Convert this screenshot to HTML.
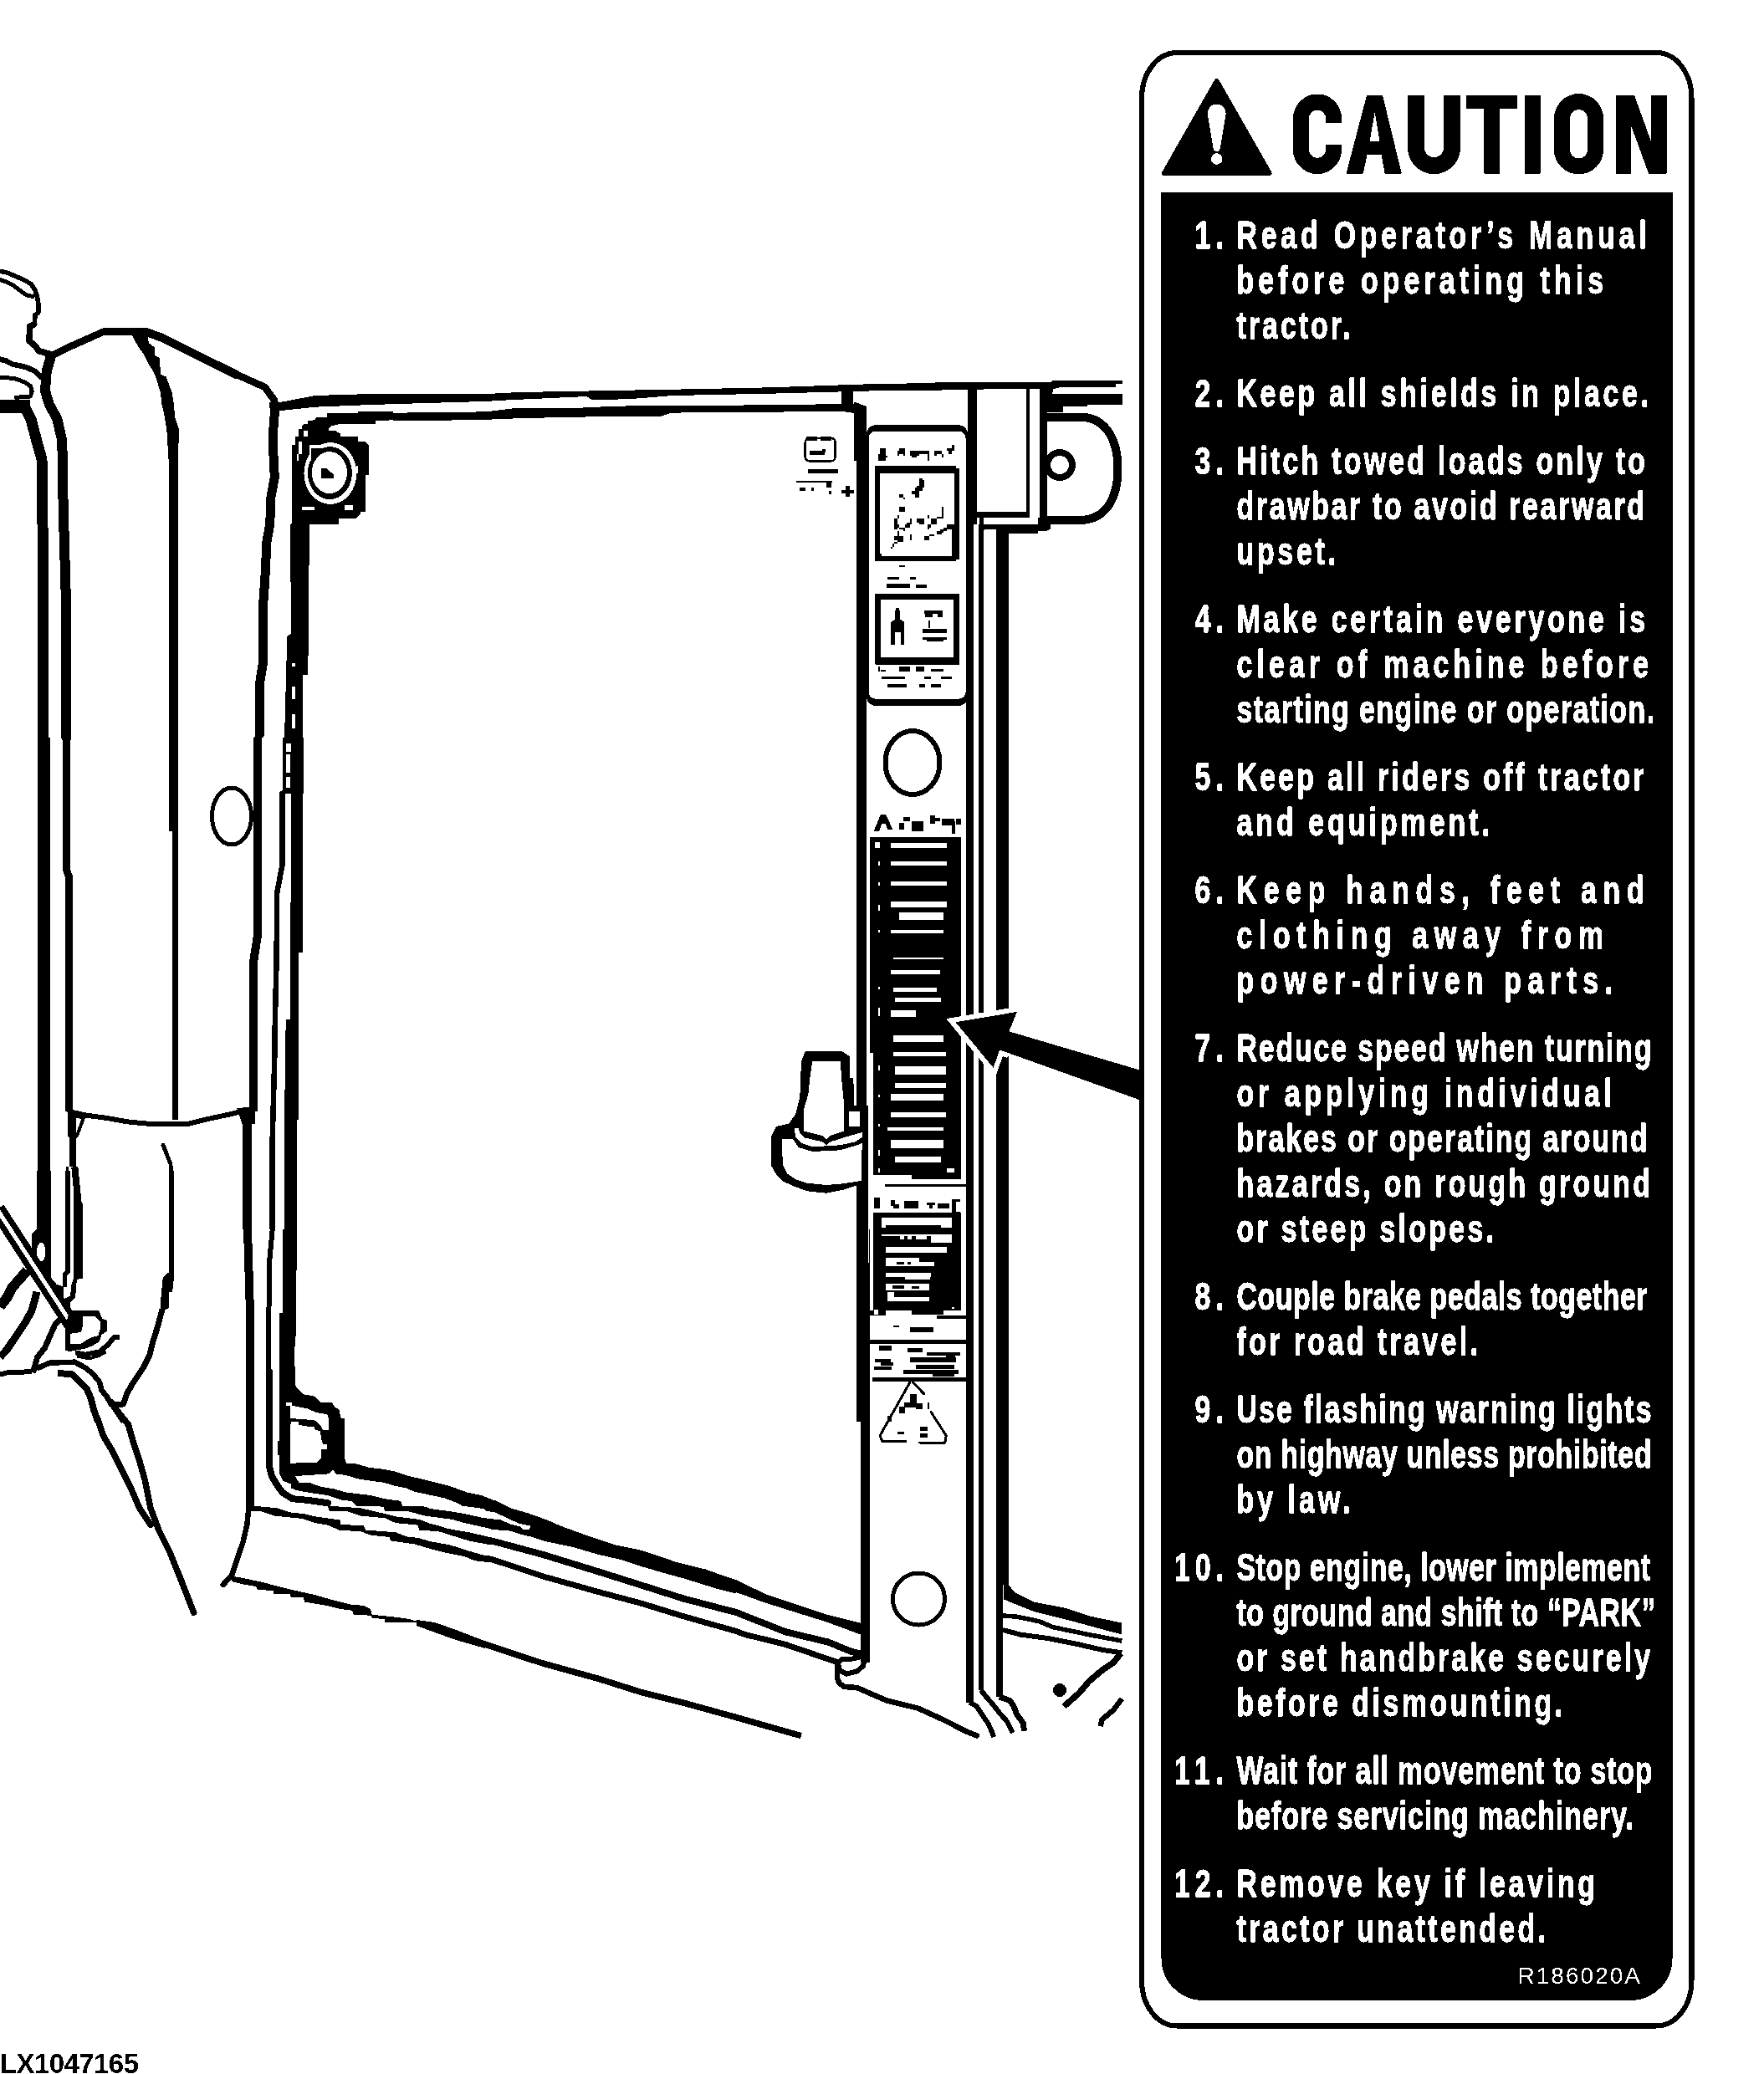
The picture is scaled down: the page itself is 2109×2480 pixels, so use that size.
<!DOCTYPE html>
<html><head><meta charset="utf-8"><title>LX1047165</title>
<style>
html,body{margin:0;padding:0;background:#fff;}
body{width:2109px;height:2480px;overflow:hidden;font-family:"Liberation Sans",sans-serif;}
svg{display:block;}
</style></head><body>
<svg width="2109" height="2480" viewBox="0 0 2109 2480">
<defs><filter id="bw" x="0" y="0" width="2109" height="2480" filterUnits="userSpaceOnUse" color-interpolation-filters="sRGB"><feComponentTransfer><feFuncR type="discrete" tableValues="0 1"/><feFuncG type="discrete" tableValues="0 1"/><feFuncB type="discrete" tableValues="0 1"/></feComponentTransfer></filter></defs>
<rect width="2109" height="2480" fill="#fff"/>
<g filter="url(#bw)">
<rect width="2109" height="2480" fill="#fff"/>
<g shape-rendering="crispEdges">
<path d="M0.0,324.4 L7.5,325.7 L16.9,329.5 L30.7,335.7 L37.6,340.1 L42.0,347.0 L44.5,355.2 L45.8,362.7 L45.8,374.0 L42.0,376.5 L41.4,387.8" fill="none" stroke="#000" stroke-width="5.5" stroke-linejoin="round" stroke-linecap="round"/>
<path d="M0.0,334.5 L7.5,337.0 L16.3,341.4 L25.1,348.3 L31.3,352.7 L38.9,354.5" fill="none" stroke="#000" stroke-width="5" stroke-linejoin="round" stroke-linecap="round"/>
<path d="M40.7,387.8 L35.7,390.3 L34.9,407.8 L42.0,413.5 L46.4,419.7 L60.2,423.5" fill="none" stroke="#000" stroke-width="7.5" stroke-linejoin="round" stroke-linecap="round"/>
<path d="M60.7,425.7 L83.3,414.7 L113.3,401.3 L123.3,396.7 L175.0,396.7" fill="none" stroke="#000" stroke-width="8.5" stroke-linejoin="round" stroke-linecap="round"/>
<path d="M175.0,397.0 L193.3,403.7 L233.3,423.7 L283.3,448.3" fill="none" stroke="#000" stroke-width="10" stroke-linejoin="round" stroke-linecap="round"/>
<path d="M283.3,448.0 L316.7,463.0 L328.3,479.0" fill="none" stroke="#000" stroke-width="8.5" stroke-linejoin="round" stroke-linecap="round"/>
<path d="M60.7,426.7 L55.7,444.0 L54.0,467.3 L59.0,484.0 L68.3,500.7 L74.3,527.3 L75.7,607.3 L78.7,710.7 L79.3,882.0" fill="none" stroke="#000" stroke-width="12" stroke-linejoin="round" stroke-linecap="round"/>
<path d="M0.0,484.0 L28.3,484.0 L37.3,502.3 L44.3,529.0 L50.0,549.0 L51.0,627.3 L52.0,882.0" fill="none" stroke="#000" stroke-width="13" stroke-linejoin="round" stroke-linecap="butt"/>
<rect x="0" y="478" width="36" height="16" fill="#000"/>
<path d="M0.0,451.4 L16.9,452.3 L28.8,456.7 L36.4,461.7 L38.2,468.0 L36.4,474.0 L19.4,475.3" fill="none" stroke="#000" stroke-width="5" stroke-linejoin="round" stroke-linecap="round"/>
<path d="M0.0,429.7 L7.5,431.6 L15.0,435.6 L30.7,438.9 L42.6,444.2 L48.3,450.4" fill="none" stroke="#000" stroke-width="6.5" stroke-linejoin="round" stroke-linecap="round"/>
<path d="M157,399 L164.2,412.8 L173,425.4 L176.8,434 L181.8,441.7 L185.5,449.2 L188,456.7 L191.8,469.2 L193.7,485.5 L195.6,491.8 L199.3,513 L202.2,560 L213.2,560 L213.7,513 L209.4,499.3 L207.5,480.5 L205.6,469.2 L201.8,459.2 L198.7,450.4 L192.4,448 L190.5,427.9 L185.5,425.4 L185,415.3 L178,410.3 L176,399 Z" fill="#000"/>
<path d="M207.7,512.3 L207.7,882.0" fill="none" stroke="#000" stroke-width="11" stroke-linejoin="round" stroke-linecap="butt"/>
<path d="M327.7,480.7 L328.3,494.0 L326.0,524.0 L328.3,570.7 L324.0,594.0 L322.7,627.3 L319.0,647.3 L316.7,694.0 L314.3,727.3 L314.3,794.0 L311.0,814.0 L310.0,882.0" fill="none" stroke="#000" stroke-width="11" stroke-linejoin="round" stroke-linecap="butt"/>
<path d="M333.3,481.3 L376.7,473.0 L443.3,471.0 L588.0,470.7 L588.0,479.7 L500.0,482.3 L443.3,484.0 L376.7,486.7 L333.3,491.3 Z" fill="#000"/>
<path d="M588.0,492.3 L493.3,493.3 L470.0,494.0 L470.0,503.3 L493.3,502.7 L588.0,502.3 Z" fill="#000"/>
<path d="M347.0,657.3 L348.3,757.3 L343.3,760.7 L340.0,882.0 L361.7,882.0 L361.7,807.3 L368.3,807.3 L369.7,657.3 Z" fill="#000"/>
<rect x="349.0" y="793.0" width="4.0" height="4.3" fill="#fff"/>
<rect x="349.0" y="820.7" width="4.0" height="15.0" fill="#fff"/>
<rect x="349.0" y="854.0" width="4.0" height="16.7" fill="#fff"/>
<path d="M470.0,492.3 L428.1,492.3 L428.1,493.8 L391.0,494.2 L391.0,498.6 L378.0,499.1 L376.1,502.4 L367.9,502.9 L367.9,506.8 L363.0,507.3 L361.1,509.2 L361.1,512.6 L357.3,513.0 L357.3,521.7 L352.9,522.2 L352.9,531.8 L349.1,531.8 L349.1,626.3 L347.1,626.8 L347.1,660.0 L369.8,660.0 L369.8,626.8 L405.0,626.8 L405.0,620.1 L425.7,619.6 L430.5,615.3 L431.0,612.4 L436.8,611.9 L436.8,568.0 L440.7,567.5 L440.7,531.8 L436.8,528.0 L427.6,528.0 L427.6,522.2 L406.9,522.2 L406.9,518.3 L400.6,515.0 L392.9,515.0 L392.9,513.0 L396.8,509.2 L405.0,507.3 L448.9,506.8 L448.9,502.9 L470.0,502.4 Z" fill="#000"/>
<g shape-rendering="crispEdges">
<clipPath id="hc"><rect x="363.0" y="528.0" width="64.8" height="75.9"/></clipPath>
<g clip-path="url(#hc)">
<ellipse cx="394.9" cy="566.0" rx="31.5" ry="37" fill="#fff" stroke="none" stroke-width="0"/>
</g>
<ellipse cx="394.4" cy="565.6" rx="26.5" ry="31.5" fill="#000" stroke="none" stroke-width="0"/>
<path d="M369.8,531.8 L382.3,531.8 L382.3,536.2 L384.3,536.2 L384.3,538.6 L378.0,539.1 L378.0,542.9 L376.1,545.3 L371.7,545.3 L371.7,550.6 L369.8,550.6 Z" fill="#fff"/>
<path d="M371.7,536.2 L386.2,536.2 L378.0,546.8 L371.7,552.6 Z" fill="#000"/>
<ellipse cx="393.9" cy="565.1" rx="21" ry="25" fill="#fff" stroke="none" stroke-width="0"/>
<path d="M383.8,559.8 L391.0,560.3 L399.2,568.0 L399.2,571.9 L383.8,571.9 Z" fill="#000"/>
</g>
<rect x="361.1" y="606.1" width="14.9" height="3.9" fill="#fff"/>
<rect x="412.2" y="604.2" width="9.6" height="5.8" fill="#fff"/>
<rect x="363.0" y="515.0" width="4.8" height="6.8" fill="#fff"/>
<rect x="357.3" y="528.0" width="3.9" height="14.9" fill="#fff"/>
<rect x="354.8" y="542.9" width="2.4" height="7.7" fill="#fff"/>
<rect x="425.7" y="556.9" width="2.1" height="9.2" fill="#fff"/>
<path d="M52.3,882.0 L53.0,1470.0" fill="none" stroke="#000" stroke-width="15" stroke-linejoin="round" stroke-linecap="butt"/>
<path d="M79.7,882.0 L80.0,1042.0 L82.7,1048.7 L82.7,1328.7" fill="none" stroke="#000" stroke-width="9" stroke-linejoin="round" stroke-linecap="butt"/>
<path d="M87.3,1328.7 L87.3,1395.3" fill="none" stroke="#000" stroke-width="8" stroke-linejoin="round" stroke-linecap="butt"/>
<path d="M80.0,1395.3 L80.0,1470.0" fill="none" stroke="#000" stroke-width="3" stroke-linejoin="round" stroke-linecap="butt"/>
<path d="M89.3,1395.3 L93.3,1435.3 L93.7,1470.0" fill="none" stroke="#000" stroke-width="8" stroke-linejoin="round" stroke-linecap="butt"/>
<path d="M207.7,882.0 L207.7,993.7" fill="none" stroke="#000" stroke-width="11" stroke-linejoin="round" stroke-linecap="butt"/>
<path d="M209.7,993.7 L209.7,1338.7" fill="none" stroke="#000" stroke-width="7" stroke-linejoin="round" stroke-linecap="butt"/>
<path d="M307.7,882.0 L307.7,1120.3 L303.3,1148.7 L303.3,1328.7" fill="none" stroke="#000" stroke-width="10" stroke-linejoin="round" stroke-linecap="butt"/>
<path d="M283.3,1325.3 L305.0,1322.7 L305.0,1343.7 L289.3,1343.7 Z" fill="#000"/>
<path d="M295.7,1343.7 L295.7,1470.0" fill="none" stroke="#000" stroke-width="11" stroke-linejoin="round" stroke-linecap="butt"/>
<path d="M337.3,948.7 L337.3,1035.3 L331.0,1068.7 L330.7,1142.0 L328.7,1228.7 L328.7,1248.7 L325.7,1362.0 L325.7,1470.0" fill="none" stroke="#000" stroke-width="6.5" stroke-linejoin="round" stroke-linecap="round"/>
<path d="M338.3,882.0 L362.7,882.0 L362.7,948.7 L361.7,948.7 L361.7,1138.7 L356.7,1138.7 L356.7,1338.7 L355.0,1338.7 L355.0,1470.0 L340.0,1470.0 L340.0,1338.7 L341.7,1218.7 L346.7,1218.7 L346.7,1138.7 L348.3,1022.0 L348.3,948.7 L338.3,948.7 Z" fill="#000"/>
<rect x="342.3" y="888.7" width="6.0" height="10.0" fill="#fff"/>
<rect x="342.3" y="902.0" width="5.0" height="21.7" fill="#fff"/>
<rect x="342.3" y="928.7" width="5.0" height="13.3" fill="#fff"/>
<ellipse cx="277" cy="976" rx="23.5" ry="34" fill="none" stroke="#000" stroke-width="5"/>
<path d="M83.3,1329.3 L103.3,1333.7 L128.3,1337.0 L151.7,1341.3 L183.3,1344.3 L223.3,1344.3 L250.0,1337.7 L276.7,1332.0 L293.3,1327.7" fill="none" stroke="#000" stroke-width="6" stroke-linejoin="round" stroke-linecap="round"/>
<path d="M83.3,1332.7 L100.0,1336.7 L91.7,1358.7 L83.3,1358.7 Z" fill="none" stroke="#000" stroke-width="4" stroke-linejoin="round" stroke-linecap="round"/>
<path d="M195.0,1369.3 L200.0,1382.0 L204.0,1392.0 L205.0,1470.0" fill="none" stroke="#000" stroke-width="5" stroke-linejoin="round" stroke-linecap="round"/>
<path d="M44.2,1400.0 L60.9,1400.0 L60.9,1527.6 L68.0,1536.1 L75.7,1538.1 L75.7,1553.1 L61.2,1546.3 L51.0,1534.4 L38.3,1519.0 L38.3,1474.8 L44.2,1469.7 Z" fill="#000"/>
<ellipse cx="49.3" cy="1497" rx="5.2" ry="11.5" fill="#fff" stroke="none" stroke-width="0"/>
<path d="M81.0,1400.0 L81.0,1520.7 L77.4,1524.1 L77.4,1538.6" fill="none" stroke="#000" stroke-width="5.5" stroke-linejoin="round" stroke-linecap="butt"/>
<path d="M90.0,1400.0 L90.0,1435.7" fill="none" stroke="#000" stroke-width="4" stroke-linejoin="round" stroke-linecap="butt"/>
<path d="M88.1,1434.0 L96.9,1434.9 L99.0,1440.8 L99.0,1528.4 L91.8,1530.1 L90.1,1551.4 L84.2,1557.3 L83.3,1567.5 L77.4,1567.5 L76.9,1553.1 L84.2,1549.7 L85.0,1537.8 L88.4,1527.6 L88.1,1461.2 Z" fill="#000"/>
<path d="M0.0,1562.4 L8.5,1551.4 L14.5,1539.5 L23.8,1529.3 L32.3,1519.0" fill="none" stroke="#000" stroke-width="12" stroke-linejoin="round" stroke-linecap="butt"/>
<path d="M0.0,1622.8 L7.7,1614.6 L17.0,1601.0 L23.8,1590.8 L30.6,1580.6 L37.8,1567.5 L41.7,1553.9 L43.9,1544.6" fill="none" stroke="#000" stroke-width="9" stroke-linejoin="round" stroke-linecap="butt"/>
<path d="M39.5,1641.5 L44.6,1622.8 L53.6,1611.7 L59.5,1598.1 L65.5,1584.5 L73.5,1576.0" fill="none" stroke="#000" stroke-width="7" stroke-linejoin="round" stroke-linecap="butt"/>
<path d="M0.0,1643.7 L7.7,1641.5 L38.3,1640.1" fill="none" stroke="#000" stroke-width="6" stroke-linejoin="round" stroke-linecap="butt"/>
<path d="M46.3,1635.5 L59.5,1629.6 L89.3,1628.7 L102.0,1635.5 L110.5,1642.3 L119.0,1652.6 L121.6,1662.8 L127.6,1669.6 L132.7,1679.3 L147.1,1679.3" fill="none" stroke="#000" stroke-width="6.5" stroke-linejoin="round" stroke-linecap="round"/>
<path d="M134.4,1679.8 L141.2,1690.0 L148.0,1700.0" fill="none" stroke="#000" stroke-width="7" stroke-linejoin="round" stroke-linecap="butt"/>
<path d="M68.9,1641.8 L86.7,1643.5 L95.2,1652.0 L103.7,1660.5 L108.8,1672.4 L112.2,1686.1 L117.3,1700.0" fill="none" stroke="#000" stroke-width="8" stroke-linejoin="round" stroke-linecap="butt"/>
<path d="M-3.4,1445.9 L85.9,1583.7" fill="none" stroke="#000" stroke-width="19" stroke-linejoin="round" stroke-linecap="butt"/>
<path d="M-3.4,1445.9 L85.9,1583.7" fill="none" stroke="#fff" stroke-width="5" stroke-linejoin="round" stroke-linecap="butt"/>
<path d="M83.3,1566.7 L118.2,1567.5 L122.4,1576.9 L127.6,1578.6 L127.6,1592.2 L121.6,1595.6 L119.0,1604.1 L110.5,1609.2 L102.0,1612.6 L91.8,1614.3 L84.2,1616.0 L78.2,1615.1 L78.2,1585.4 Z" fill="#000"/>
<path d="M98.6,1573.5 L113.1,1573.5 L119.9,1580.3 L119.9,1588.8 L117.3,1597.3 L110.5,1599.0 L102.0,1603.2 L96.9,1606.6 L84.2,1607.5 L84.2,1594.7 L96.9,1593.0 L98.6,1587.1 Z" fill="#fff"/>
<path d="M90.1,1617.3 L102.0,1619.7 L119.0,1616.3 L129.3,1607.8 L136.1,1599.3 L142.9,1598.5" fill="none" stroke="#000" stroke-width="6" stroke-linejoin="round" stroke-linecap="butt"/>
<path d="M91.8,1621.4 L107.1,1624.5 L119.0,1620.6 L126.7,1616.3" fill="none" stroke="#000" stroke-width="4" stroke-linejoin="round" stroke-linecap="butt"/>
<path d="M202.4,1400.0 L207.8,1400.0 L207.8,1529.3 L206.1,1544.6 L202.4,1544.6 L202.0,1564.1 L195.6,1567.5 L191.3,1567.5 L193.0,1544.6 L194.7,1527.9 L199.8,1522.4 L202.4,1522.4 Z" fill="#000"/>
<path d="M193.9,1565.8 L188.8,1585.4 L182.8,1604.1 L178.6,1621.1 L171.8,1634.7 L165.0,1644.9 L158.2,1655.1 L151.4,1667.0 L147.6,1678.9" fill="none" stroke="#000" stroke-width="7" stroke-linejoin="round" stroke-linecap="butt"/>
<path d="M133.3,1676.7 L140.0,1686.7 L153.3,1703.3 L160.0,1726.7 L166.7,1746.7 L173.3,1770.0 L180.0,1803.3 L190.0,1830.0 L203.3,1856.7 L216.7,1890.0 L231.7,1928.3" fill="none" stroke="#000" stroke-width="7.5" stroke-linejoin="round" stroke-linecap="round"/>
<path d="M116.7,1696.7 L123.3,1716.7 L133.3,1733.3 L143.3,1753.3 L156.7,1780.0 L166.7,1803.3 L180.0,1823.3" fill="none" stroke="#000" stroke-width="7.5" stroke-linejoin="round" stroke-linecap="round"/>
<path d="M296.0,1470.0 L299.0,1570.0 L299.3,1803.3" fill="none" stroke="#000" stroke-width="10" stroke-linejoin="round" stroke-linecap="butt"/>
<path d="M297.3,1803.3 L295.3,1823.3 L290.7,1843.3 L284.0,1863.3 L277.3,1883.3 L266.7,1895.0" fill="none" stroke="#000" stroke-width="6.5" stroke-linejoin="round" stroke-linecap="round"/>
<path d="M325.7,1470.0 L322.0,1510.0 L321.0,1620.0 L321.3,1643.3" fill="none" stroke="#000" stroke-width="6" stroke-linejoin="round" stroke-linecap="butt"/>
<path d="M322.0,1640.0 L322.0,1753.9 L324.9,1765.0 L330.8,1775.2 L337.6,1784.6 L349.5,1792.2 L368.2,1793.9 L392.0,1797.3" fill="none" stroke="#000" stroke-width="8" stroke-linejoin="round" stroke-linecap="round"/>
<path d="M338.3,1470.0 L355.0,1470.0 L354.0,1570.0 L353.3,1610.0 L352.0,1610.0 L352.7,1641.7 L334.3,1641.7 L334.3,1570.0 L338.3,1570.0 Z" fill="#000"/>
<path d="M334.2,1640.0 L352.9,1640.0 L352.9,1656.2 L356.3,1661.3 L362.3,1667.2 L376.7,1669.8 L383.5,1676.6 L397.1,1677.4 L400.5,1682.5 L405.6,1685.9 L407.3,1695.3 L411.6,1696.1 L412.1,1743.7 L414.1,1749.7 L426.1,1750.5 L441.4,1754.8 L455.8,1756.5 L470.3,1759.0 L489.0,1765.0 L514.5,1771.0 L537.4,1776.9 L558.7,1784.6 L575.7,1788.0 L590.0,1793.9 L590.0,1806.7 L573.2,1803.3 L552.8,1800.7 L546.8,1797.3 L531.5,1791.4 L507.7,1786.3 L495.8,1783.7 L485.6,1779.5 L472.8,1776.9 L458.4,1772.7 L444.8,1771.0 L427.8,1768.4 L414.1,1764.1 L401.4,1762.4 L398.8,1757.3 L392.9,1762.4 L352.9,1765.0 L357.2,1772.7 L371.6,1773.5 L383.5,1777.8 L398.8,1780.3 L414.1,1784.6 L443.1,1788.0 L460.1,1792.2 L478.8,1794.8 L481.3,1800.7 L509.4,1801.6 L514.5,1804.1 L540.0,1807.5 L555.3,1810.1 L590.0,1817.7 L590.0,1828.8 L555.3,1821.1 L540.9,1816.9 L508.5,1812.6 L489.0,1807.5 L460.1,1806.7 L458.4,1801.6 L426.1,1800.7 L420.1,1794.8 L409.0,1793.9 L391.2,1788.0 L368.2,1784.6 L354.6,1782.0 L347.8,1779.5 L347.8,1774.4 L338.5,1771.0 L334.2,1762.4 L334.2,1740.3 L332.2,1740.3 L332.2,1723.3 L334.2,1723.3 Z" fill="#000"/>
<path d="M341.9,1677.1 L348.7,1677.1 L348.7,1680.8 L358.0,1682.5 L368.2,1684.6 L376.7,1688.5 L384.4,1690.2 L391.2,1691.0 L392.9,1696.1 L392.9,1709.7 L386.1,1709.7 L382.7,1703.8 L377.6,1698.7 L363.1,1697.0 L347.0,1696.1 L347.0,1680.8 L341.9,1680.8 Z" fill="#fff"/>
<path d="M348.7,1699.9 L357.2,1699.9 L357.2,1703.8 L367.4,1705.5 L375.9,1706.3 L376.7,1709.7 L382.7,1711.4 L384.4,1721.6 L386.1,1726.7 L391.2,1727.6 L391.2,1732.7 L384.4,1733.2 L383.5,1743.7 L378.4,1748.8 L347.0,1749.7 L347.0,1703.8 Z" fill="#fff"/>
<path d="M392.0,1793.9 L393.7,1800.7 L431.2,1803.3 L460.1,1810.1 L473.7,1813.5 L501.7,1816.9 L514.5,1822.0 L524.7,1824.5 L534.9,1827.9 L560.4,1832.2 L585.9,1838.1 L590.0,1839.0 L590.0,1846.6 L582.5,1846.6 L560.4,1842.4 L524.7,1831.3 L500.9,1829.6 L500.0,1823.7 L472.8,1821.1 L460.1,1815.2 L431.2,1812.6 L415.9,1807.5 L393.7,1806.7 L392.0,1801.6 Z" fill="#000"/>
<path d="M301.9,1800.7 L313.0,1801.6 L331.7,1803.3 L347.0,1808.4 L363.1,1810.1 L377.6,1813.5 L407.3,1817.7 L407.3,1822.8 L434.6,1824.5 L437.1,1829.6 L472.8,1832.2 L485.6,1837.3 L500.0,1839.0 L514.5,1843.2 L538.3,1847.5 L559.6,1854.3 L577.4,1859.4 L590.0,1861.1 L590.0,1868.7 L567.2,1866.2 L555.3,1861.1 L533.2,1856.8 L510.2,1850.9 L496.6,1846.6 L466.9,1842.4 L466.0,1838.1 L443.1,1835.6 L431.2,1831.3 L405.6,1829.6 L392.0,1823.7 L376.7,1821.1 L361.4,1816.0 L328.3,1812.6 L313.0,1807.5 L297.7,1806.7 Z" fill="#000"/>
<path d="M276.7,1884.6 L290.0,1886.9 L313.0,1891.7 L331.7,1896.8 L352.9,1901.9 L375.9,1907.0 L397.1,1913.0 L420.1,1918.9 L434.6,1919.8 L443.1,1924.0 L444.8,1930.8 L470.3,1933.4 L489.0,1935.9 L502.6,1940.0 L460.1,1940.0 L460.1,1935.9 L444.8,1935.1 L443.1,1931.7 L422.7,1930.8 L421.0,1925.7 L407.3,1924.0 L390.3,1919.8 L364.0,1915.5 L363.1,1910.4 L347.8,1910.4 L347.0,1906.2 L326.6,1906.2 L326.6,1901.9 L308.7,1901.1 L305.3,1896.8 L290.0,1894.3 L276.7,1890.9 Z" fill="#000"/>
<path d="M498,1937 L520,1940 L548,1950 L580,1962.4 L580,1971 L545,1961 L520,1952 L498,1944 Z" fill="#000"/>
<path d="M580.0,1792.0 L591.9,1794.0 L610.6,1803.4 L631.0,1809.3 L654.8,1817.8 L670.1,1824.6 L707.6,1838.2 L736.5,1847.6 L764.5,1853.2 L789.2,1861.2 L808.7,1868.0 L843.6,1876.5 L858.9,1882.1 L880.0,1889.3 L880.0,1905.4 L858.9,1900.3 L818.1,1887.6 L794.3,1881.1 L767.1,1873.1 L744.1,1865.4 L714.4,1858.6 L685.4,1850.1 L649.7,1842.5 L634.4,1837.4 L622.5,1834.8 L610.6,1830.6 L587.7,1828.9 L580.0,1823.3 L580.0,1815.3 L598.7,1817.5 L610.6,1822.6 L622.5,1825.5 L625.9,1829.4 L632.7,1829.4 L634.1,1824.6 L620.0,1821.6 L605.5,1814.8 L591.9,1808.5 L580.0,1806.3 Z" fill="#000"/>
<path d="M586,1842 L648,1858.6 L716,1879.5 L767,1895.6 L818,1911.8 L880,1928 L939.8,1951.5 L989.7,1963.4 L1017,1974.5 L1030,1978" fill="none" stroke="#000" stroke-width="8" stroke-linejoin="round" stroke-linecap="butt"/>
<path d="M586,1864 L648,1884.6 L716,1903.7 L767,1917.3 L818,1933 L880,1950.5 L890,1954.3 L939.8,1966.6 L977,1979.4 L1001,1987.5" fill="none" stroke="#000" stroke-width="7" stroke-linejoin="round" stroke-linecap="butt"/>
<path d="M578,1965.5 L648,1988.7 L716,2007.5 L767,2023.6 L818,2036.4 L880,2053.5 L952,2074 L958,2075.5" fill="none" stroke="#000" stroke-width="7.5" stroke-linejoin="round" stroke-linecap="butt"/>
</g>
<g shape-rendering="crispEdges">
<path d="M588.0,470.7 L621.3,469.0 L804.7,465.7 L921.3,463.3 L1046.3,459.0 L1176.0,457.3 L1176.0,466.0 L1046.3,467.3 L921.3,470.7 L804.7,473.0 L751.3,477.3 L708.0,478.0 L701.3,474.0 L588.0,479.3 Z" fill="#000"/>
<path d="M588,491.5 L613,488.4 L678,488.4 L737,485.6 L803,485 L924,484.3 L1007,483 L1021,483 L1021,494 L1007,492 L924,492.6 L803,493.6 L790,498 L737,498 L678,498.8 L613,500.5 L588,501.5 Z" fill="#000"/>
<rect x="1006.3" y="467.3" width="14.0" height="18.3" fill="#000"/>
<path d="M1021.3,480.7 L1035.7,485.7 L1035.7,882.0 L1023.7,882.0 L1023.7,550.7 L1021.3,550.7 Z" fill="#000"/>
<rect x="1157" y="459.0" width="11" height="168.0" fill="#000"/>
<rect x="1036" y="508.3" width="121" height="335.7" rx="11" fill="#000"/>
<rect x="1038.5" y="515.7" width="116" height="320" rx="8" fill="#fff"/>
<rect x="1052.0" y="536.2" width="7.1" height="14.6" fill="#000"/>
<rect x="1050.1" y="542.9" width="1.9" height="7.8" fill="#000"/>
<rect x="1059.1" y="544.8" width="1.9" height="2.2" fill="#000"/>
<rect x="1075.1" y="536.2" width="6.7" height="6.7" fill="#000"/>
<rect x="1073.3" y="539.2" width="1.9" height="5.6" fill="#000"/>
<rect x="1080.0" y="542.9" width="1.9" height="1.9" fill="#000"/>
<rect x="1088.2" y="539.2" width="22.8" height="3.7" fill="#000"/>
<rect x="1088.2" y="542.9" width="10.8" height="1.9" fill="#000"/>
<rect x="1090.1" y="544.8" width="6.0" height="2.2" fill="#000"/>
<rect x="1108.8" y="542.9" width="2.2" height="7.8" fill="#000"/>
<rect x="1117.0" y="539.2" width="9.0" height="3.7" fill="#000"/>
<rect x="1117.0" y="542.9" width="3.0" height="1.9" fill="#000"/>
<rect x="1125.9" y="542.9" width="1.9" height="4.1" fill="#000"/>
<rect x="1137.9" y="532.1" width="3.0" height="6.7" fill="#000"/>
<rect x="1131.9" y="536.2" width="6.0" height="2.6" fill="#000"/>
<rect x="1134.2" y="538.8" width="3.7" height="4.1" fill="#000"/>
<rect x="1046.0" y="557.1" width="97.2" height="113.6" fill="#000"/>
<rect x="1143.1" y="560.0" width="3.7" height="108.9" fill="#000"/>
<rect x="1052.0" y="566.0" width="88.9" height="98.8" fill="#fff"/>
<rect x="1052.0" y="662.1" width="1.9" height="2.6" fill="#000"/>
<rect x="1099.0" y="572.1" width="4.1" height="2.2" fill="#000"/>
<rect x="1099.0" y="574.3" width="6.0" height="8.2" fill="#000"/>
<rect x="1096.1" y="581.1" width="7.1" height="5.6" fill="#000"/>
<rect x="1094.2" y="583.3" width="4.9" height="11.6" fill="#000"/>
<rect x="1090.1" y="587.0" width="4.1" height="3.7" fill="#000"/>
<rect x="1075.1" y="591.1" width="4.9" height="3.7" fill="#000"/>
<rect x="1080.0" y="594.9" width="1.9" height="1.9" fill="#000"/>
<rect x="1075.1" y="606.1" width="6.7" height="5.6" fill="#000"/>
<rect x="1073.3" y="616.2" width="1.9" height="3.7" fill="#000"/>
<rect x="1069.1" y="619.9" width="3.7" height="12.7" fill="#000"/>
<rect x="1072.9" y="627.0" width="1.9" height="3.7" fill="#000"/>
<rect x="1074.8" y="630.8" width="7.1" height="1.9" fill="#000"/>
<rect x="1080.0" y="632.6" width="1.9" height="2.2" fill="#000"/>
<rect x="1081.9" y="627.0" width="6.0" height="3.7" fill="#000"/>
<rect x="1084.1" y="625.1" width="6.0" height="1.9" fill="#000"/>
<rect x="1088.2" y="619.9" width="1.9" height="5.2" fill="#000"/>
<rect x="1096.1" y="619.9" width="9.0" height="4.9" fill="#000"/>
<rect x="1099.0" y="624.8" width="6.0" height="1.9" fill="#000"/>
<rect x="1109.1" y="616.2" width="1.9" height="3.7" fill="#000"/>
<rect x="1113.2" y="619.9" width="6.7" height="6.7" fill="#000"/>
<rect x="1109.1" y="627.0" width="3.7" height="3.7" fill="#000"/>
<rect x="1109.1" y="630.8" width="1.9" height="1.9" fill="#000"/>
<rect x="1120.0" y="618.0" width="7.8" height="1.9" fill="#000"/>
<rect x="1125.9" y="606.1" width="1.9" height="12.0" fill="#000"/>
<rect x="1131.9" y="627.0" width="9.0" height="5.6" fill="#000"/>
<rect x="1128.2" y="630.8" width="3.7" height="4.1" fill="#000"/>
<rect x="1124.1" y="633.0" width="4.1" height="3.7" fill="#000"/>
<rect x="1120.0" y="634.9" width="6.0" height="3.7" fill="#000"/>
<rect x="1111.0" y="639.0" width="6.0" height="1.9" fill="#000"/>
<rect x="1105.0" y="640.8" width="6.0" height="4.9" fill="#000"/>
<rect x="1088.2" y="639.0" width="1.9" height="6.7" fill="#000"/>
<rect x="1073.3" y="634.9" width="1.9" height="6.4" fill="#000"/>
<rect x="1069.1" y="641.2" width="10.8" height="4.5" fill="#000"/>
<rect x="1073.3" y="645.7" width="6.7" height="1.9" fill="#000"/>
<rect x="1069.1" y="647.9" width="3.7" height="1.9" fill="#000"/>
<rect x="1066.9" y="649.8" width="2.2" height="3.7" fill="#000"/>
<rect x="1065.0" y="653.9" width="1.9" height="1.9" fill="#000"/>
<rect x="1137.9" y="632.6" width="3.0" height="32.1" fill="#000"/>
<rect x="1074.7" y="675.7" width="7.3" height="2.7" fill="#000"/>
<rect x="1061.3" y="690.0" width="13.3" height="3.0" fill="#000"/>
<rect x="1088.0" y="690.0" width="6.7" height="3.0" fill="#000"/>
<rect x="1059.7" y="698.0" width="28.3" height="5.3" fill="#000"/>
<rect x="1095.3" y="699.0" width="12.7" height="4.3" fill="#000"/>
<rect x="1049.3" y="713.5" width="94.4" height="77" fill="#fff" stroke="#000" stroke-width="7"/>
<rect x="1047.3" y="785.7" width="99.7" height="9.0" fill="#000"/>
<path d="M1065.3,770.7 L1065.3,744.0 L1069.7,740.7 L1070.7,727.3 L1075.3,727.3 L1076.3,740.7 L1081.3,744.0 L1081.3,770.7 L1076.7,770.7 L1076.7,755.7 L1070.0,755.7 L1070.0,770.7 Z" fill="#000"/>
<rect x="1104.7" y="730.0" width="22.7" height="4.0" fill="#000"/>
<rect x="1106.3" y="734.0" width="8.3" height="4.0" fill="#000"/>
<rect x="1121.3" y="734.0" width="6.0" height="4.0" fill="#000"/>
<rect x="1109.7" y="742.3" width="2.3" height="8.3" fill="#000"/>
<rect x="1103.0" y="752.3" width="29.0" height="5.0" fill="#000"/>
<rect x="1103.0" y="762.3" width="29.0" height="2.7" fill="#000"/>
<rect x="1108.0" y="765.0" width="20.0" height="2.3" fill="#000"/>
<rect x="1049.7" y="796.7" width="2.3" height="6.7" fill="#000"/>
<rect x="1053.0" y="800.7" width="5.7" height="2.3" fill="#000"/>
<rect x="1074.7" y="797.3" width="13.3" height="5.7" fill="#000"/>
<rect x="1094.7" y="797.3" width="10.7" height="5.7" fill="#000"/>
<rect x="1113.0" y="800.0" width="15.0" height="3.0" fill="#000"/>
<rect x="1054.0" y="809.0" width="28.0" height="2.7" fill="#000"/>
<rect x="1104.7" y="809.0" width="8.3" height="2.7" fill="#000"/>
<rect x="1124.7" y="809.0" width="13.3" height="2.7" fill="#000"/>
<rect x="1060.7" y="818.3" width="23.3" height="4.0" fill="#000"/>
<rect x="1098.7" y="818.3" width="7.7" height="4.0" fill="#000"/>
<rect x="1113.0" y="818.3" width="12.3" height="4.0" fill="#000"/>
<rect x="962.7" y="524.0" width="36.0" height="27.3" rx="5" fill="none" stroke="#000" stroke-width="2.5"/>
<rect x="964.0" y="522.3" width="13.3" height="5.0" fill="#000"/>
<rect x="981.3" y="522.3" width="12.7" height="5.0" fill="#000"/>
<rect x="968.0" y="539.0" width="18.3" height="5.0" fill="#000"/>
<rect x="983.0" y="536.7" width="4.3" height="4.0" fill="#000"/>
<rect x="966.3" y="560.7" width="35.7" height="5.0" fill="#000"/>
<rect x="952.0" y="574.7" width="42.7" height="2.0" fill="#000"/>
<rect x="988.0" y="575.7" width="5.7" height="7.0" fill="#000"/>
<rect x="956.3" y="583.3" width="6.7" height="4.0" fill="#000"/>
<rect x="969.7" y="583.3" width="3.3" height="4.0" fill="#000"/>
<rect x="991.3" y="587.3" width="2.7" height="3.3" fill="#000"/>
<rect x="1006.3" y="585.7" width="15.0" height="4.3" fill="#000"/>
<rect x="1010.7" y="581.3" width="5.7" height="12.7" fill="#000"/>
<path d="M1100.0,458.7 L1125.5,457.0 L1257.3,457.0 L1258.2,454.9 L1342.3,454.9 L1342.3,458.7 L1333.8,459.2 L1333.8,462.6 L1266.7,463.3 L1259.0,465.5 L1258.2,471.1 L1304.1,471.1 L1342.3,471.1 L1342.3,484.2 L1299.8,484.2 L1299.8,486.4 L1270.9,486.4 L1270.9,492.7 L1251.9,493.5 L1251.9,464.6 L1242.9,464.6 L1100.0,465.0 Z" fill="#000"/>
<rect x="1227" y="464" width="4" height="155" fill="#000"/>
<rect x="1168" y="612" width="63" height="7" fill="#000"/>
<rect x="1243" y="464" width="9" height="163" fill="#000"/>
<path d="M1171.4,619.4 L1175.7,619.4 L1175.7,627.0 L1241.2,627.0 L1241.2,619.4 L1255.6,619.4 L1255.6,632.7 L1251.9,634.7 L1241.2,634.7 L1241.2,638.4 L1205.4,638.4 L1191.0,638.4 L1191.0,632.7 L1177.4,632.7 L1175.7,634.7 L1171.4,634.7 L1170.1,627.0 L1171.4,627.0 Z" fill="#000"/>
<path d="M1252,498.5 H1290 C1325,498.5 1336.5,530 1336.5,560 C1336.5,592 1325,622 1290,622 H1252" fill="none" stroke="#000" stroke-width="10"/>
<circle cx="1267" cy="556" r="15" fill="#fff" stroke="#000" stroke-width="8"/>
<rect x="1155.3" y="627" width="8.7" height="1409" fill="#000"/>
<rect x="1170" y="627" width="5.7" height="1394" fill="#000"/>
<rect x="1191" y="638" width="14.6" height="1257" fill="#000"/>
<rect x="1191" y="1895" width="8" height="134" fill="#000"/>
<rect x="1024" y="882" width="12" height="440" fill="#000"/>
<rect x="1024" y="1322" width="14" height="190" fill="#000"/>
<ellipse cx="1091" cy="912" rx="32.5" ry="38" fill="none" stroke="#000" stroke-width="6"/>
<path d="M1044.7,993.7 L1049.7,982.0 L1053.0,973.7 L1058.7,973.7 L1063.0,982.0 L1067.3,992.0 L1061.3,992.0 L1058.7,985.3 L1054.0,985.3 L1051.3,993.7 Z" fill="#000"/>
<rect x="1075.3" y="983.7" width="6.0" height="8.3" fill="#000"/>
<rect x="1079.7" y="977.0" width="8.3" height="5.0" fill="#000"/>
<rect x="1089.7" y="982.0" width="14.3" height="11.7" fill="#000"/>
<rect x="1112.0" y="975.3" width="6.0" height="10.0" fill="#000"/>
<rect x="1118.0" y="978.0" width="6.0" height="4.0" fill="#000"/>
<rect x="1126.3" y="978.7" width="15.0" height="8.3" fill="#000"/>
<rect x="1138.0" y="982.0" width="4.0" height="15.0" fill="#000"/>
<rect x="1143.0" y="979.3" width="5.7" height="6.7" fill="#000"/>
<path d="M1039.7,1001.0 L1149.0,1001.0 L1149.0,1409.7 L1089.7,1409.7 L1089.7,1405.3 L1044.0,1405.3 L1044.0,1258.7 L1039.7,1258.7 Z" fill="#000"/>
<rect x="1065.3" y="1007.8" width="66.7" height="6.0" fill="#fff"/>
<rect x="1065.3" y="1030.3" width="66.7" height="5.0" fill="#fff"/>
<rect x="1065.3" y="1053.7" width="66.7" height="5.0" fill="#fff"/>
<rect x="1065.3" y="1077.8" width="66.7" height="6.7" fill="#fff"/>
<rect x="1074.7" y="1091.2" width="53.3" height="8.3" fill="#fff"/>
<rect x="1065.3" y="1112.0" width="62.7" height="4.0" fill="#fff"/>
<rect x="1068.0" y="1145.3" width="60.0" height="2.0" fill="#fff"/>
<rect x="1065.3" y="1160.2" width="58.7" height="4.3" fill="#fff"/>
<rect x="1068.0" y="1181.0" width="51.7" height="5.0" fill="#fff"/>
<rect x="1069.7" y="1192.8" width="55.0" height="5.0" fill="#fff"/>
<rect x="1065.3" y="1207.8" width="29.3" height="8.3" fill="#fff"/>
<rect x="1068.0" y="1237.8" width="60.0" height="8.3" fill="#fff"/>
<rect x="1068.0" y="1257.8" width="63.3" height="5.0" fill="#fff"/>
<rect x="1069.7" y="1274.5" width="61.7" height="10.0" fill="#fff"/>
<rect x="1069.7" y="1295.3" width="61.7" height="5.3" fill="#fff"/>
<rect x="1065.3" y="1307.8" width="62.7" height="8.3" fill="#fff"/>
<rect x="1065.3" y="1329.5" width="66.0" height="6.7" fill="#fff"/>
<rect x="1061.3" y="1347.8" width="66.7" height="4.0" fill="#fff"/>
<rect x="1065.3" y="1362.8" width="62.7" height="10.0" fill="#fff"/>
<rect x="1069.7" y="1382.8" width="55.0" height="6.7" fill="#fff"/>
<rect x="1132.0" y="1397.0" width="9.3" height="5.0" fill="#fff"/>
<rect x="1049.7" y="1030.3" width="2.3" height="5.0" fill="#fff"/>
<rect x="1049.7" y="1055.3" width="2.3" height="3.3" fill="#fff"/>
<rect x="1049.7" y="1082.0" width="2.3" height="6.7" fill="#fff"/>
<rect x="1049.7" y="1112.0" width="2.3" height="3.3" fill="#fff"/>
<rect x="1049.7" y="1180.3" width="2.3" height="2.3" fill="#fff"/>
<rect x="1049.7" y="1205.3" width="2.3" height="10.0" fill="#fff"/>
<rect x="1049.7" y="1273.7" width="2.3" height="6.7" fill="#fff"/>
<rect x="1049.7" y="1308.7" width="2.3" height="3.3" fill="#fff"/>
<rect x="1049.7" y="1343.7" width="2.3" height="3.3" fill="#fff"/>
<rect x="1049.7" y="1375.3" width="2.3" height="6.7" fill="#fff"/>
<rect x="1049.7" y="1397.0" width="2.3" height="5.0" fill="#fff"/>
<rect x="1046.3" y="1007.0" width="5.7" height="6.7" fill="#fff"/>
<rect x="1058.0" y="1416.3" width="96.7" height="3.0" fill="#000"/>
<rect x="1044.7" y="1432.0" width="7.3" height="13.3" fill="#000"/>
<rect x="1065.3" y="1435.3" width="4.3" height="6.7" fill="#000"/>
<rect x="1068.0" y="1440.3" width="6.7" height="5.0" fill="#000"/>
<rect x="1081.3" y="1436.0" width="16.7" height="9.3" fill="#000"/>
<rect x="1108.0" y="1438.0" width="10.0" height="2.7" fill="#000"/>
<rect x="1111.3" y="1440.7" width="3.3" height="4.7" fill="#000"/>
<rect x="1121.3" y="1438.7" width="13.3" height="6.7" fill="#000"/>
<rect x="1138.0" y="1433.7" width="10.0" height="3.3" fill="#000"/>
<rect x="1138.0" y="1437.0" width="5.0" height="11.7" fill="#000"/>
<rect x="1138.0" y="1448.7" width="10.0" height="4.0" fill="#000"/>
<rect x="1044.0" y="1450.3" width="105.0" height="116.3" fill="#000"/>
<rect x="1054.3" y="1456.1" width="83.6" height="9.0" fill="#fff"/>
<rect x="1124.8" y="1465.1" width="13.1" height="3.3" fill="#fff"/>
<rect x="1054.3" y="1465.1" width="4.9" height="3.3" fill="#fff"/>
<rect x="1054.3" y="1475.7" width="83.6" height="2.6" fill="#fff"/>
<rect x="1113.3" y="1478.4" width="24.6" height="7.2" fill="#fff"/>
<rect x="1075.6" y="1478.4" width="4.9" height="3.9" fill="#fff"/>
<rect x="1085.4" y="1478.4" width="4.9" height="3.9" fill="#fff"/>
<rect x="1095.2" y="1478.4" width="13.1" height="3.1" fill="#fff"/>
<rect x="1059.2" y="1490.5" width="73.0" height="7.4" fill="#fff"/>
<rect x="1059.2" y="1504.4" width="40.2" height="4.9" fill="#fff"/>
<rect x="1059.2" y="1509.3" width="57.4" height="4.9" fill="#fff"/>
<rect x="1072.3" y="1509.3" width="8.2" height="2.5" fill="#000"/>
<rect x="1085.4" y="1509.3" width="3.3" height="2.5" fill="#000"/>
<rect x="1059.2" y="1521.6" width="54.1" height="5.7" fill="#fff"/>
<rect x="1082.1" y="1527.4" width="29.5" height="2.1" fill="#fff"/>
<rect x="1059.2" y="1534.8" width="51.6" height="8.2" fill="#fff"/>
<rect x="1067.4" y="1537.2" width="13.1" height="3.3" fill="#000"/>
<rect x="1090.3" y="1538.0" width="8.2" height="3.3" fill="#000"/>
<rect x="1060.8" y="1544.6" width="8.2" height="11.5" fill="#fff"/>
<rect x="1060.8" y="1551.1" width="50.0" height="4.9" fill="#fff"/>
<rect x="1137.9" y="1562.6" width="3.3" height="2.5" fill="#fff"/>
<path d="M963.0,1257.0 L1006.3,1257.0 L1016.3,1263.7 L1016.3,1288.7 L1020.3,1288.7 L1021.3,1322.0 L1031.3,1323.7 L1033.0,1358.7 L1031.3,1415.3 L1023.0,1418.0 L1008.0,1422.7 L988.0,1426.7 L964.7,1424.3 L951.3,1419.3 L936.3,1412.7 L928.0,1404.3 L922.3,1394.3 L922.3,1358.7 L928.0,1347.0 L943.0,1343.7 L951.3,1332.0 L956.3,1312.0 L958.0,1268.7 Z" fill="#000"/>
<path d="M971.3,1268.7 L1004.7,1268.7 L1006.3,1292.0 L1008.7,1315.3 L1008.7,1352.7 L993.0,1358.0 L988.0,1362.7 L983.0,1358.0 L961.3,1352.7 L961.3,1325.3 L966.3,1308.7 L968.0,1292.0 Z" fill="#fff"/>
<path d="M1014.7,1328.7 L1028.0,1328.7 L1028.0,1347.0 L1014.7,1347.0 Z" fill="#fff"/>
<path d="M949.7,1348.7 L954.7,1348.7 L956.3,1355.3 L961.3,1360.3 L983.0,1365.3 L988.0,1369.3 L993.0,1365.3 L1008.7,1360.3 L1031.3,1353.7 L1031.3,1359.3 L1023.0,1365.3 L1004.7,1369.3 L971.3,1371.3 L958.0,1367.0 L951.3,1360.3 Z" fill="#fff"/>
<path d="M934.7,1362.0 L948.0,1362.0 L954.7,1372.0 L971.3,1377.0 L1004.7,1375.3 L1024.7,1369.3 L1030.7,1367.0 L1029.7,1412.0 L1008.0,1415.3 L988.0,1417.0 L964.7,1414.7 L951.3,1410.3 L941.3,1403.7 L936.3,1393.7 L934.7,1372.0 Z" fill="#fff"/>
<rect x="1024" y="1510" width="16" height="190" fill="#000"/>
<rect x="1029" y="1700" width="11" height="288" fill="#000"/>
<rect x="1024" y="1418.7" width="12" height="91.3" fill="#000"/>
<rect x="1038.5" y="1470" width="1.5" height="100" fill="#000"/>
<rect x="1119.8" y="1573.3" width="35.2" height="4.1" fill="#000"/>
<rect x="1040.3" y="1566.7" width="18.9" height="6.6" fill="#000"/>
<rect x="1045.2" y="1565.9" width="4.9" height="5.7" fill="#fff"/>
<rect x="1090.3" y="1566.7" width="37.7" height="4.9" fill="#000"/>
<rect x="1039.7" y="1601.7" width="115.0" height="5.0" fill="#000"/>
<rect x="1043.0" y="1646.7" width="111.7" height="5.0" fill="#000"/>
<rect x="1068.0" y="1585.0" width="6.7" height="2.3" fill="#000"/>
<rect x="1088.0" y="1587.3" width="28.3" height="5.3" fill="#000"/>
<rect x="1051.3" y="1609.3" width="15.0" height="5.7" fill="#000"/>
<rect x="1084.7" y="1611.7" width="18.3" height="5.0" fill="#000"/>
<rect x="1108.0" y="1616.7" width="40.0" height="4.0" fill="#000"/>
<rect x="1046.3" y="1625.0" width="18.3" height="4.3" fill="#000"/>
<rect x="1053.0" y="1629.3" width="15.0" height="4.0" fill="#000"/>
<rect x="1088.0" y="1623.3" width="55.0" height="6.0" fill="#000"/>
<rect x="1131.3" y="1619.3" width="10.7" height="5.7" fill="#000"/>
<rect x="1044.7" y="1634.0" width="21.7" height="4.3" fill="#000"/>
<rect x="1094.7" y="1631.7" width="46.7" height="5.0" fill="#000"/>
<rect x="1079.7" y="1638.3" width="66.7" height="5.0" fill="#000"/>
<rect x="1114.7" y="1641.7" width="26.7" height="4.0" fill="#000"/>
<path d="M1088.0,1652.7 L1052.0,1716.7 L1054.7,1723.3 L1081.3,1724.0" fill="none" stroke="#000" stroke-width="3" stroke-linejoin="round" stroke-linecap="round"/>
<path d="M1099.7,1725.0 L1129.7,1725.0 L1131.3,1716.7 L1113.0,1688.3" fill="none" stroke="#000" stroke-width="3" stroke-linejoin="round" stroke-linecap="round"/>
<path d="M1091.3,1652.7 L1104.7,1666.7" fill="none" stroke="#000" stroke-width="3" stroke-linejoin="round" stroke-linecap="round"/>
<rect x="1088.0" y="1666.7" width="8.3" height="16.7" fill="#000"/>
<rect x="1081.3" y="1676.7" width="6.7" height="6.7" fill="#000"/>
<rect x="1074.7" y="1681.7" width="7.3" height="8.3" fill="#000"/>
<rect x="1094.7" y="1678.3" width="8.3" height="6.7" fill="#000"/>
<rect x="1061.3" y="1693.3" width="5.0" height="6.7" fill="#000"/>
<rect x="1108.7" y="1676.7" width="2.0" height="8.3" fill="#000"/>
<rect x="1073.0" y="1711.7" width="8.3" height="3.3" fill="#000"/>
<rect x="1099.7" y="1706.0" width="9.0" height="4.7" fill="#000"/>
<rect x="1099.7" y="1714.3" width="9.0" height="5.0" fill="#000"/>
<rect x="1059.7" y="1721.7" width="24.3" height="3.3" fill="#000"/>
<circle cx="1098.5" cy="1912" r="31" fill="none" stroke="#000" stroke-width="5"/>
<path d="M880,1889 L914.8,1906 L989.7,1931 L1030,1941 L1030,1955 L989.7,1940 L914.8,1916.5 L880,1904 Z" fill="#000"/>
<path d="M1034.6,1980 L1032,1992 L1024.6,1998.4 L1012,2001.6 L1003.4,1997.2 L1002,1988 L1007,1984 L1019.6,1983.5 L1030,1981" fill="none" stroke="#000" stroke-width="6" stroke-linejoin="round" stroke-linecap="round"/>
<path d="M1001,1990 L1001,2007 L1003.4,2012.8 L1009.6,2017 L1024.6,2018 L1039.6,2024.6 L1060,2033.4 L1097.5,2042.6 L1127,2056 L1156.5,2071 L1167.8,2075.5" fill="none" stroke="#000" stroke-width="6.5" stroke-linejoin="round" stroke-linecap="round"/>
<path d="M1159.4,2035.8 L1167.8,2040.4 L1173.5,2049.4 L1181.4,2060.8 L1186.4,2072.1 L1188.2,2077.1" fill="none" stroke="#000" stroke-width="6" stroke-linejoin="round" stroke-linecap="butt"/>
<path d="M1172.8,2021.1 L1179.1,2029.0 L1187.1,2038.1 L1195.0,2048.3 L1204.1,2058.5 L1210.9,2072.1" fill="none" stroke="#000" stroke-width="6" stroke-linejoin="round" stroke-linecap="butt"/>
<path d="M1195.0,2029.0 L1207.5,2033.6 L1212.0,2040.4 L1215.4,2049.4 L1223.4,2060.8 L1224.5,2069.8" fill="none" stroke="#000" stroke-width="7" stroke-linejoin="round" stroke-linecap="butt"/>
<path d="M1205.9,1895.2 L1213.2,1904.3 L1235.8,1915.6 L1272.1,1922.4 L1303.9,1932.7 L1341.3,1940.6 L1341.3,1954.2 L1331.1,1951.9 L1281.2,1938.3 L1235.8,1927.0 L1213.2,1917.9 L1199.5,1912.2 L1199.5,1895.2 Z" fill="#000"/>
<path d="M1199.1,1932.0 L1215.4,1933.1 L1242.6,1938.8 L1258.5,1945.6 L1301.6,1954.6 L1341.3,1962.1" fill="none" stroke="#000" stroke-width="5.5" stroke-linejoin="round" stroke-linecap="butt"/>
<path d="M1199.1,1949.0 L1220.0,1954.6 L1254.0,1959.2 L1288.0,1966.0 L1317.5,1972.8 L1341.3,1976.4" fill="none" stroke="#000" stroke-width="6" stroke-linejoin="round" stroke-linecap="butt"/>
<path d="M1340.1,1976.9 L1331.1,1988.2 L1317.5,1997.3 L1301.6,2010.9 L1290.2,2024.5 L1272.1,2040.4" fill="none" stroke="#000" stroke-width="7.5" stroke-linejoin="round" stroke-linecap="butt"/>
<path d="M1341.3,2031.3 L1331.1,2044.9 L1317.5,2056.2 L1315.6,2064.2" fill="none" stroke="#000" stroke-width="6.5" stroke-linejoin="round" stroke-linecap="butt"/>
<circle cx="1267" cy="2021" r="8" fill="#000"/>
<path d="M1142.5,1222.3 L1216.0,1209.9 L1206.3,1233.3 L1219.0,1237.1 L1202.0,1257.8 L1195.2,1255.4 L1187.6,1276.7 Z" fill="#fff" stroke="#fff" stroke-width="12" stroke-linejoin="miter"/>
<path d="M1142.5,1222.3 L1216.0,1209.9 L1206.3,1233.3 L1361.9,1279.3 L1361.9,1315.0 L1195.2,1255.4 L1187.6,1276.7 Z" fill="#000"/>
</g>
<rect x="1365" y="63" width="657.5" height="2359.5" rx="42" ry="54" fill="#fff" stroke="#000" stroke-width="6"/>
<path d="M1388.5,230 H1999.5 V2342 A50,50 0 0 1 1949.5,2392 H1438.5 A50,50 0 0 1 1388.5,2342 Z" fill="#000"/>
<path d="M1454.7,97 L1517.5,207 H1392 Z" fill="#000" stroke="#000" stroke-width="6" stroke-linejoin="round"/>
<path d="M1454.7,124.5 C1462,124.5 1466,130 1465.5,137 L1458.7,178 C1458,182 1451.4,182 1450.7,178 L1443.9,137 C1443.4,130 1447.4,124.5 1454.7,124.5 Z" fill="#fff"/>
<circle cx="1454.7" cy="190" r="6.8" fill="#fff"/>
<path d="M1594.5,147 V141.5 A19.5,19.5 0 0 0 1555.5,141.5 V179 A19.5,19.5 0 0 0 1594.5,179 V173" fill="none" stroke="#000" stroke-width="19"/>
<path fill-rule="evenodd" d="M1609.5,207.5 L1634,114 H1653 L1675.8,207.5 H1655.6 L1651.5,185 H1634.5 L1629.8,207.5 Z M1637.5,169.5 H1649.5 L1643.7,134 Z" fill="#000"/>
<path d="M1693,114 V177 A21.5,21 0 0 0 1736,177 V114" fill="none" stroke="#000" stroke-width="20"/>
<path d="M1753,114 H1814 V130 H1793 V207.5 H1774.5 V130 H1753 Z" fill="#000"/>
<rect x="1823" y="114" width="18.5" height="93.5" fill="#000"/>
<path d="M1867.5,141.5 A20,20 0 0 1 1907.5,141.5 V179 A20,20 0 0 1 1867.5,179 Z" fill="none" stroke="#000" stroke-width="19"/>
<path d="M1932,207.5 V114 H1954 L1974.3,170 V114 H1992.7 V207.5 H1971 L1950.4,151 V207.5 Z" fill="#000"/>
<g font-family="Liberation Sans, sans-serif" font-weight="bold" font-size="47" fill="#fff" stroke="#fff" stroke-width="1.1" vector-effect="non-scaling-stroke">
<text transform="translate(1428.5,297.0) scale(0.72,1)" textLength="47.9" lengthAdjust="spacing">1.</text>
<text transform="translate(1478.5,297.0) scale(0.72,1)" textLength="680.6" lengthAdjust="spacing">Read Operator’s Manual</text>
<text transform="translate(1478.5,351.0) scale(0.72,1)" textLength="609.0" lengthAdjust="spacing">before operating this</text>
<text transform="translate(1478.5,405.0) scale(0.72,1)" textLength="188.9" lengthAdjust="spacing">tractor.</text>
<text transform="translate(1428.5,486.0) scale(0.72,1)" textLength="47.9" lengthAdjust="spacing">2.</text>
<text transform="translate(1478.5,486.0) scale(0.72,1)" textLength="684.0" lengthAdjust="spacing">Keep all shields in place.</text>
<text transform="translate(1428.5,567.0) scale(0.72,1)" textLength="47.9" lengthAdjust="spacing">3.</text>
<text transform="translate(1478.5,567.0) scale(0.72,1)" textLength="678.5" lengthAdjust="spacing">Hitch towed loads only to</text>
<text transform="translate(1478.5,621.0) scale(0.72,1)" textLength="677.1" lengthAdjust="spacing">drawbar to avoid rearward</text>
<text transform="translate(1478.5,675.0) scale(0.72,1)" textLength="164.6" lengthAdjust="spacing">upset.</text>
<text transform="translate(1428.5,756.0) scale(0.72,1)" textLength="47.9" lengthAdjust="spacing">4.</text>
<text transform="translate(1478.5,756.0) scale(0.72,1)" textLength="678.5" lengthAdjust="spacing">Make certain everyone is</text>
<text transform="translate(1478.5,810.0) scale(0.72,1)" textLength="684.0" lengthAdjust="spacing">clear of machine before</text>
<text transform="translate(1478.5,864.0) scale(0.72,1)" textLength="693.8" lengthAdjust="spacing">starting engine or operation.</text>
<text transform="translate(1428.5,945.0) scale(0.72,1)" textLength="47.9" lengthAdjust="spacing">5.</text>
<text transform="translate(1478.5,945.0) scale(0.72,1)" textLength="676.4" lengthAdjust="spacing">Keep all riders off tractor</text>
<text transform="translate(1478.5,999.0) scale(0.72,1)" textLength="420.1" lengthAdjust="spacing">and equipment.</text>
<text transform="translate(1428.5,1080.0) scale(0.72,1)" textLength="47.9" lengthAdjust="spacing">6.</text>
<text transform="translate(1478.5,1080.0) scale(0.72,1)" textLength="676.4" lengthAdjust="spacing">Keep hands, feet and</text>
<text transform="translate(1478.5,1134.0) scale(0.72,1)" textLength="609.0" lengthAdjust="spacing">clothing away from</text>
<text transform="translate(1478.5,1188.0) scale(0.72,1)" textLength="624.3" lengthAdjust="spacing">power-driven parts.</text>
<text transform="translate(1428.5,1269.0) scale(0.72,1)" textLength="47.9" lengthAdjust="spacing">7.</text>
<text transform="translate(1478.5,1269.0) scale(0.72,1)" textLength="688.9" lengthAdjust="spacing">Reduce speed when turning</text>
<text transform="translate(1478.5,1323.0) scale(0.72,1)" textLength="622.9" lengthAdjust="spacing">or applying individual</text>
<text transform="translate(1478.5,1377.0) scale(0.72,1)" textLength="681.9" lengthAdjust="spacing">brakes or operating around</text>
<text transform="translate(1478.5,1431.0) scale(0.72,1)" textLength="686.8" lengthAdjust="spacing">hazards, on rough ground</text>
<text transform="translate(1478.5,1485.0) scale(0.72,1)" textLength="427.1" lengthAdjust="spacing">or steep slopes.</text>
<text transform="translate(1428.5,1566.0) scale(0.72,1)" textLength="47.9" lengthAdjust="spacing">8.</text>
<text transform="translate(1478.5,1566.0) scale(0.72,1)" textLength="681.9" lengthAdjust="spacing">Couple brake pedals together</text>
<text transform="translate(1478.5,1620.0) scale(0.72,1)" textLength="400.7" lengthAdjust="spacing">for road travel.</text>
<text transform="translate(1428.5,1701.0) scale(0.72,1)" textLength="47.9" lengthAdjust="spacing">9.</text>
<text transform="translate(1478.5,1701.0) scale(0.72,1)" textLength="688.9" lengthAdjust="spacing">Use flashing warning lights</text>
<text transform="translate(1478.5,1755.0) scale(0.72,1)" textLength="688.9" lengthAdjust="spacing">on highway unless prohibited</text>
<text transform="translate(1478.5,1809.0) scale(0.72,1)" textLength="188.9" lengthAdjust="spacing">by law.</text>
<text transform="translate(1404,1890.0) scale(0.72,1)" textLength="81.9" lengthAdjust="spacing">10.</text>
<text transform="translate(1478.5,1890.0) scale(0.72,1)" textLength="686.8" lengthAdjust="spacing">Stop engine, lower implement</text>
<text transform="translate(1478.5,1944.0) scale(0.72,1)" textLength="695.8" lengthAdjust="spacing">to ground and shift to “PARK”</text>
<text transform="translate(1478.5,1998.0) scale(0.72,1)" textLength="686.8" lengthAdjust="spacing">or set handbrake securely</text>
<text transform="translate(1478.5,2052.0) scale(0.72,1)" textLength="541.0" lengthAdjust="spacing">before dismounting.</text>
<text transform="translate(1404,2133.0) scale(0.72,1)" textLength="81.9" lengthAdjust="spacing">11.</text>
<text transform="translate(1478.5,2133.0) scale(0.72,1)" textLength="690.3" lengthAdjust="spacing">Wait for all movement to stop</text>
<text transform="translate(1478.5,2187.0) scale(0.72,1)" textLength="659.0" lengthAdjust="spacing">before servicing machinery.</text>
<text transform="translate(1404,2268.0) scale(0.72,1)" textLength="81.9" lengthAdjust="spacing">12.</text>
<text transform="translate(1478.5,2268.0) scale(0.72,1)" textLength="595.1" lengthAdjust="spacing">Remove key if leaving</text>
<text transform="translate(1478.5,2322.0) scale(0.72,1)" textLength="513.2" lengthAdjust="spacing">tractor unattended.</text>
</g>
<text x="1814.5" y="2371.5" font-family="Liberation Sans, sans-serif" font-size="28" fill="#fff" textLength="146.5" lengthAdjust="spacing">R186020A</text>
<text x="0" y="2479" font-family="Liberation Sans, sans-serif" font-weight="bold" font-size="33" fill="#000" textLength="166" lengthAdjust="spacing">LX1047165</text>
</g>
</svg>
</body></html>
